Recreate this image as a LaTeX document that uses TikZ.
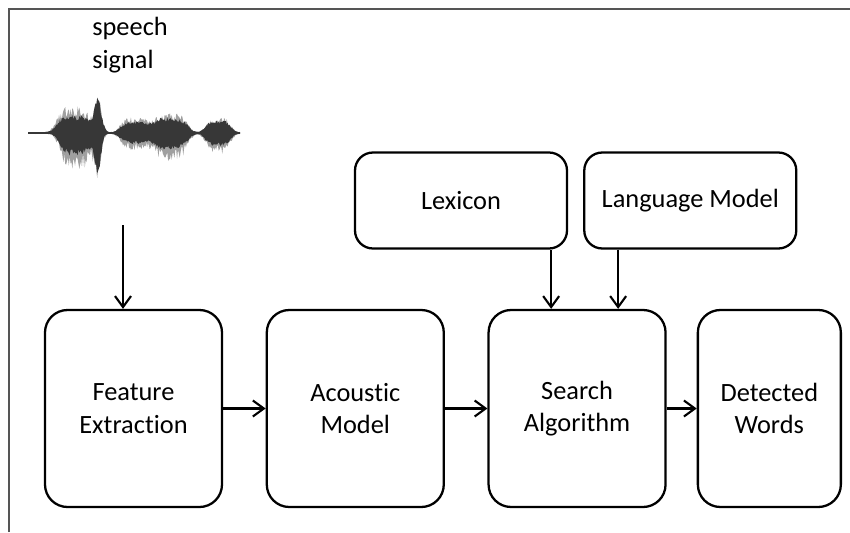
\documentclass[tikz,border=0pt]{standalone}
\usepackage{fontspec}
\setmainfont{Carlito}[Ligatures=NoCommon]
\usetikzlibrary{arrows.meta, positioning, calc}
\definecolor{framegray}{RGB}{85, 85, 85}
\definecolor{wavedark}{RGB}{55, 55, 55}
\definecolor{wavelight}{RGB}{160, 160, 160}

\begin{document}
\begin{tikzpicture}[
            node distance=0.85cm,
            box/.style={draw=black, line width=1.3pt, rounded corners=0.45cm, minimum width=3.54cm, minimum height=3.94cm, align=center, font=\fontsize{15}{18.5}\selectfont},
            smallbox/.style={box, rounded corners=0.36cm, minimum width=4.24cm, minimum height=1.92cm},
            arrow/.style={-{Straight Barb[length=2.2mm, width=3.2mm]}, line width=1.2pt, black},
            declare function={
                g(\x,\c,\w)=exp(-min(((\x-\c)/\w)^2,20));
                p(\x,\c,\w)=exp(-min(((\x-\c)/\w)^2,6)^2);
                lt(\x)=26*p(\x,74,19)+38*g(\x,98,4.5)+15*p(\x,135,16)+19*p(\x,170,19)+15*p(\x,218,14)+1;
                lb(\x)=36*p(\x,76,18)+44*g(\x,98,4.5)+16*p(\x,135,16)+27*p(\x,170,19)+21*p(\x,218,14)+1;
                dt(\x)=17*p(\x,74,19)+34*g(\x,98,5)+11*p(\x,135,16)+15*p(\x,170,19)+12*p(\x,218,14)+1;
                db(\x)=22*p(\x,76,18)+42*g(\x,98,4)+10*p(\x,135,16)+16*p(\x,170,19)+12*p(\x,218,14)+1;
            }
        ]
            \useasboundingbox (0,0) rectangle (17,10.64);
            \draw[framegray, line width=1.5pt] (0.18,0) |- (17,10.46);

            % speech signal
            \node[anchor=west, align=left, inner sep=0pt, font=\fontsize{15}{18.5}\selectfont] (sig) at (1.84,9.74) {speech\\signal};
            \begin{scope}[x=0.02cm, y=0.02cm, shift={(0cm,7.98cm)}]
                \pgfmathsetseed{7}
                \fill[wavelight] plot[domain=28:240, samples=240] (\x, {lt(\x)*(0.55+0.45*rnd)}) -- plot[domain=240:28, samples=240] (\x, {-lb(\x)*(0.55+0.45*rnd)}) -- cycle;
                \fill[wavedark] plot[domain=28:240, samples=240] (\x, {dt(\x)*(0.7+0.3*rnd)}) -- plot[domain=240:28, samples=240] (\x, {-db(\x)*(0.7+0.3*rnd)}) -- cycle;
                \draw[wavedark, line width=1pt] (28,0) -- (240,0);
            \end{scope}
            \coordinate (sigout) at (2.46,6.14);

            % main chain
            \node[box] (fe) at (2.67,2.47) {Feature\\Extraction};
            \node[box, right=of fe] (am) {Acoustic\\Model};
            \node[box, right=of am] (sa) {Search\\Algorithm};
            \node[box, right=0.6cm of sa, minimum width=2.86cm] (dw) {Detected\\Words};

            % knowledge sources
            \node[smallbox] (lex) at (9.22,6.63) {Lexicon};
            \node[smallbox, right=0.3cm of lex] (lm) {Language Model};

            \draw[arrow] (sigout) -- (sigout |- fe.north);
            \draw[arrow] (fe) -- (am);
            \draw[arrow] (am) -- (sa);
            \draw[arrow] (sa) -- (dw);
            \draw[arrow] ([xshift=-0.34cm]lex.south east) -- ([xshift=-0.34cm]lex.south east |- sa.north);
            \draw[arrow] ([xshift=0.7cm]lm.south west) -- ([xshift=0.7cm]lm.south west |- sa.north);
        \end{tikzpicture}
\end{document}
